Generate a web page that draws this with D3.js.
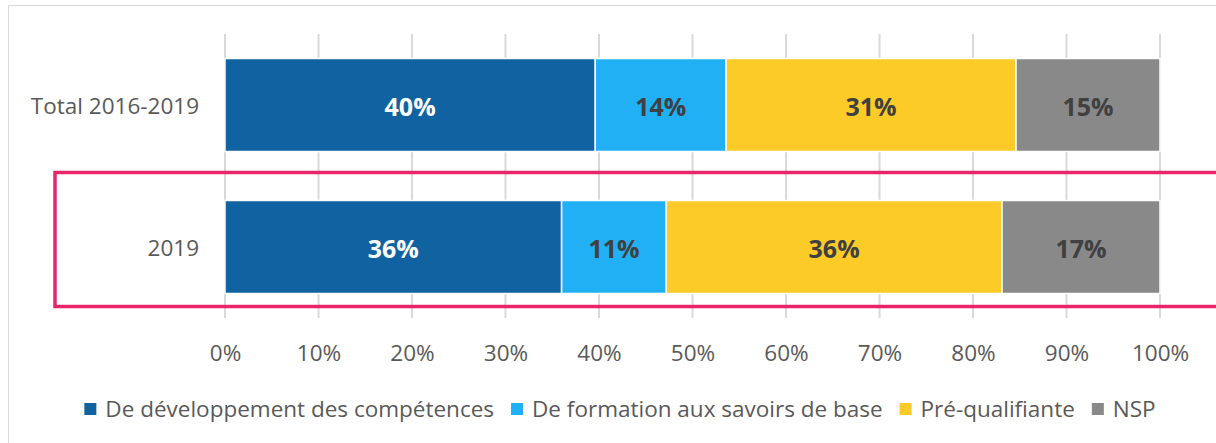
<!DOCTYPE html>
<html lang="fr">
<head>
<meta charset="UTF-8">
<title>Chart</title>
<script src="https://cdn.jsdelivr.net/npm/d3@7"></script>
<style>
  body { margin: 0; background: #fff; }
  text { font-family: "Open Sans", "Noto Sans", sans-serif; }
</style>
</head>
<body>
<script>
  const categories = ['Total 2016-2019', '2019']
  const seriesNames = ['De développement des compétences', 'De formation aux savoirs de base', 'Pré-qualifiante', 'NSP']
  const colors = ['#1063a0', '#22b0f4', '#fdcb27', '#898989']
  const labelColors = ['#ffffff', '#404040', '#404040', '#404040']
  const valuesTotal = [39.6, 14.0, 31.0, 15.4]
  const values2019 = [36.0, 11.2, 35.9, 16.9]
  const tickValues = [0, 10, 20, 30, 40, 50, 60, 70, 80, 90, 100]

  const [width, height] = [1216, 443]
  const svg = d3.select('body').append('svg').attr('width', width).attr('height', height)

  // chart frame
  svg.append('rect').attr('x', 8.5).attr('y', 5.5).attr('width', 1230).attr('height', 460)
    .attr('fill', 'none').attr('stroke', '#d9d9d9').attr('stroke-width', 1)

  const x = d3.scaleLinear().domain([0, 100]).range([225, 1160])
  const y = d3.scaleBand().domain(categories).range([34, 318]).paddingInner(0.345).paddingOuter(0.1725)

  const rows = categories.map((c, i) => {
    const vals = i === 0 ? valuesTotal : values2019
    let acc = 0
    return vals.map((v, j) => { const d = { cat: c, s: j, x0: acc, x1: acc + v, v }; acc += v; return d })
  })

  // grid lines
  svg.append('g').selectAll('line').data(tickValues).join('line')
    .attr('x1', d => x(d)).attr('x2', d => x(d))
    .attr('y1', 34).attr('y2', 318)
    .attr('stroke', '#d9d9d9').attr('stroke-width', 2)

  // bars
  const bars = svg.append('g')
  rows.forEach(r => {
    bars.selectAll(null).data(r).join('rect')
      .attr('x', d => x(d.x0)).attr('width', d => x(d.x1) - x(d.x0))
      .attr('y', d => y(d.cat)).attr('height', y.bandwidth())
      .attr('fill', d => colors[d.s])
      .attr('stroke', '#fff').attr('stroke-width', 1.5)
    bars.selectAll(null).data(r).join('text')
      .attr('x', d => (x(d.x0) + x(d.x1)) / 2)
      .attr('y', d => y(d.cat) + y.bandwidth() / 2 + 2)
      .attr('dy', '0.36em')
      .attr('text-anchor', 'middle')
      .attr('font-size', 25).attr('font-weight', 'bold')
      .attr('fill', d => labelColors[d.s])
      .text(d => Math.round(d.v) + '%')
  })

  // category labels
  svg.append('g').selectAll('text').data(categories).join('text')
    .attr('x', 199).attr('y', d => y(d) + y.bandwidth() / 2 + 1).attr('dy', '0.36em')
    .attr('text-anchor', 'end').attr('font-size', 22.5).attr('fill', '#595959')
    .text(d => d)

  // x axis labels
  const xAxis = d3.axisBottom(x).tickValues(tickValues).tickSize(0).tickPadding(0).tickFormat(d => d + '%')
  const gx = svg.append('g').attr('transform', 'translate(0, 345)').call(xAxis)
  gx.select('.domain').remove()
  gx.selectAll('text').attr('font-size', 22.5).attr('fill', '#595959').attr('font-family', null)

  // highlight box around 2019
  svg.append('rect')
    .attr('x', 55).attr('y', y('2019') - 28)
    .attr('width', 1200).attr('height', y.bandwidth() + 41)
    .attr('fill', 'none').attr('stroke', '#e8246a').attr('stroke-width', 3.5)

  // legend
  const legend = svg.append('g')
  let lx = 0
  seriesNames.forEach((n, i) => {
    const g = legend.append('g').attr('transform', `translate(${lx}, 0)`)
    g.append('rect').attr('x', 0).attr('y', -6).attr('width', 12).attr('height', 12).attr('fill', colors[i])
    const t = g.append('text').attr('x', 21).attr('dy', '0.36em').attr('font-size', 22.5).attr('fill', '#595959').text(n)
    lx += 21 + t.node().getComputedTextLength() + 17
  })
  const legendWidth = lx - 17
  legend.attr('transform', `translate(${620 - legendWidth / 2}, 409)`)
</script>
</body>
</html>
